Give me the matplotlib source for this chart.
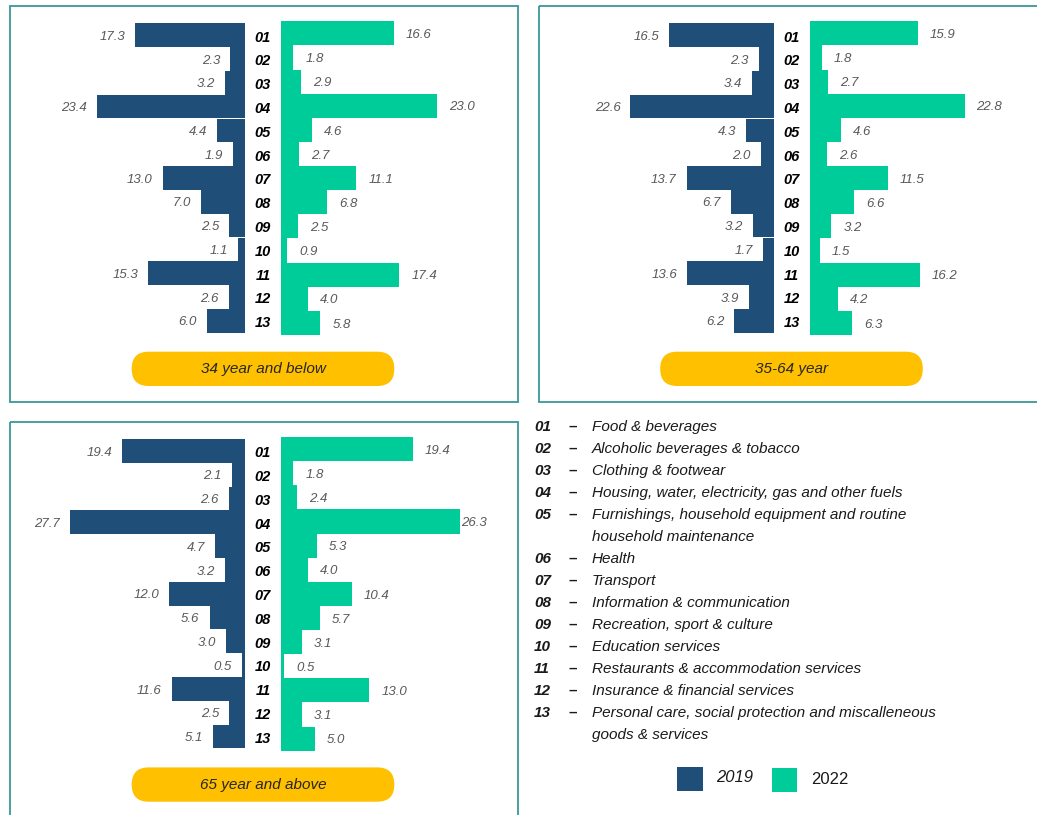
"""Household expenditure shares by COICOP division and age group, 2019 vs 2022."""

import matplotlib

matplotlib.use("Agg")
import matplotlib.pyplot as plt
from matplotlib.patches import FancyBboxPatch, Rectangle

plt.rcParams["font.family"] = ["Liberation Sans", "DejaVu Sans"]

W, H = 1037, 815

# ---- data -------------------------------------------------------------
codes = ["01", "02", "03", "04", "05", "06", "07", "08", "09", "10", "11", "12", "13"]

young_2019 = [17.3, 2.3, 3.2, 23.4, 4.4, 1.9, 13.0, 7.0, 2.5, 1.1, 15.3, 2.6, 6.0]
young_2022 = [16.6, 1.8, 2.9, 23.0, 4.6, 2.7, 11.1, 6.8, 2.5, 0.9, 17.4, 4.0, 5.8]
mid_2019 = [16.5, 2.3, 3.4, 22.6, 4.3, 2.0, 13.7, 6.7, 3.2, 1.7, 13.6, 3.9, 6.2]
mid_2022 = [15.9, 1.8, 2.7, 22.8, 4.6, 2.6, 11.5, 6.6, 3.2, 1.5, 16.2, 4.2, 6.3]
old_2019 = [19.4, 2.1, 2.6, 27.7, 4.7, 3.2, 12.0, 5.6, 3.0, 0.5, 11.6, 2.5, 5.1]
old_2022 = [19.4, 1.8, 2.4, 26.3, 5.3, 4.0, 10.4, 5.7, 3.1, 0.5, 13.0, 3.1, 5.0]

group_titles = ["34 year and below", "35-64 year", "65 year and above"]

descriptions = [
    "Food & beverages",
    "Alcoholic beverages & tobacco",
    "Clothing & footwear",
    "Housing, water, electricity, gas and other fuels",
    "Furnishings, household equipment and routine\nhousehold maintenance",
    "Health",
    "Transport",
    "Information & communication",
    "Recreation, sport & culture",
    "Education services",
    "Restaurants & accommodation services",
    "Insurance & financial services",
    "Personal care, social protection and miscalleneous\ngoods & services",
]

years = ["2019", "2022"]

# ---- style ------------------------------------------------------------
C2019 = "#1F4E79"
C2022 = "#00CC99"
PILL = "#FFC000"
FRAME = "#3A9797"
VAL = "#595959"

L_SCALE = 6.33   # px per unit, 2019 side
R_SCALE = 6.8    # px per unit, 2022 side
L_MAX = 30
R_MAX = 30

fig = plt.figure(figsize=(W / 100, H / 100), dpi=100)

# background axes in pixel units for frames, pills and legend
bg = fig.add_axes([0, 0, 1, 1])
bg.set_xlim(0, W)
bg.set_ylim(H, 0)
bg.axis("off")


def px_axes(x0, y0, x1, y1):
    return fig.add_axes([x0 / W, 1 - y1 / H, (x1 - x0) / W, (y1 - y0) / H])


def panel(dx, dy, left_vals, right_vals, title, frame_w):
    bg.add_patch(Rectangle((10 + dx, 6 + dy), frame_w, 396, fill=False,
                           edgecolor=FRAME, lw=1.3))

    ax_l = px_axes(245 + dx - L_MAX * L_SCALE, 23.3 + dy, 245 + dx, 332.7 + dy)
    ax_r = px_axes(281 + dx, 21.3 + dy, 281 + dx + R_MAX * R_SCALE, 335 + dy)

    ypos = list(range(len(codes)))
    ax_l.barh(ypos, left_vals, height=1.0, color=C2019)
    ax_r.barh(ypos, right_vals, height=1.0, color=C2022)
    ax_l.set_xlim(L_MAX, 0)
    ax_r.set_xlim(0, R_MAX)
    for ax in (ax_l, ax_r):
        ax.set_ylim(len(codes) - 0.5, -0.5)
        ax.axis("off")
        ax.patch.set_alpha(0)

    for i, v in enumerate(left_vals):
        ax_l.text(v + 10 / L_SCALE, i + 0.07, f"{v:.1f}", ha="right", va="center",
                  fontsize=9.5, style="italic", color=VAL)
        ax_l.text(-18 / L_SCALE, i + 0.1, codes[i], ha="center", va="center",
                  fontsize=10.5, style="italic", weight="bold", color="black",
                  clip_on=False)
    for i, v in enumerate(right_vals):
        x = min(v + 12 / R_SCALE, 26.45)
        ax_r.text(x, i + 0.07, f"{v:.1f}", ha="left", va="center",
                  fontsize=9.5, style="italic", color=VAL)

    bg.add_patch(FancyBboxPatch((131.7 + dx, 351.7 + dy), 262.6, 34.3,
                                boxstyle="round,pad=0,rounding_size=17",
                                facecolor=PILL, edgecolor="none"))
    bg.text(263 + dx, 369.5 + dy, title, ha="center", va="center",
            fontsize=11, style="italic", color="#262626")


panel(0, 0, young_2019, young_2022, group_titles[0], 508)
panel(528.5, 0, mid_2019, mid_2022, group_titles[1], 520)
panel(0, 415.7, old_2019, old_2022, group_titles[2], 508)

# ---- code legend ----------------------------------------------------
row = 0
for code, desc in zip(codes, descriptions):
    y = 427 + 22 * row
    bg.text(534, y, code, ha="left", va="center", fontsize=11,
            style="italic", weight="bold", color="#1a1a1a")
    bg.text(573, y, "–", ha="center", va="center", fontsize=11,
            weight="bold", color="#1a1a1a")
    for line in desc.split("\n"):
        bg.text(592, 427 + 22 * row, line, ha="left", va="center",
                fontsize=11, style="italic", color="#1a1a1a")
        row += 1

# ---- year legend ----------------------------------------------------
bg.add_patch(Rectangle((677, 766.7), 25.5, 24, facecolor=C2019, edgecolor="none"))
bg.text(716, 778, years[0], ha="left", va="center", fontsize=12,
        style="italic", color="#1a1a1a")
bg.add_patch(Rectangle((772.3, 767.7), 24.5, 24.5, facecolor=C2022, edgecolor="none"))
bg.text(811, 779, years[1], ha="left", va="center", fontsize=12,
        color="#1a1a1a")

fig.savefig("out.png", dpi=100)
